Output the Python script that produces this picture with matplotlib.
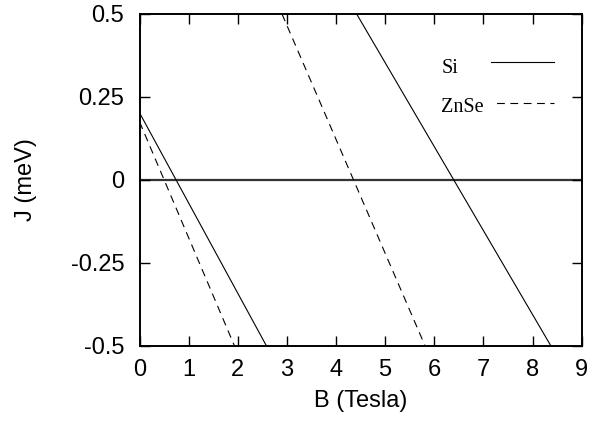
import numpy as np
import matplotlib
matplotlib.use('Agg')
import matplotlib.pyplot as plt

# branch end points: (B in Tesla, J in meV)
si_b = [[0.0, 2.58], [4.42, 8.37]]
si_j = [[0.202, -0.5], [0.5, -0.5]]
znse_b = [[0.0, 1.93], [2.90, 5.81]]
znse_j = [[0.175, -0.5], [0.5, -0.5]]

x_ticks = [0, 1, 2, 3, 4, 5, 6, 7, 8, 9]
y_ticks = [-0.5, -0.25, 0, 0.25, 0.5]
y_labels = ['-0.5', '-0.25', '0', '0.25', '0.5']

si_style = dict(color='black', lw=0.8, ls='-')
znse_style = dict(color='black', lw=0.8, ls=(0, (7, 5)))

plt.rcParams['font.family'] = ['Liberation Sans', 'DejaVu Sans']

fig = plt.figure(figsize=(6.04, 4.24), dpi=100)
ax = fig.add_axes([0.231, 0.185, 0.732, 0.782])

# zero line
ax.axhline(0, color='#333333', lw=1.6, zorder=1)

for k in range(len(si_b)):
    ax.plot(si_b[k], si_j[k], **si_style)
for k in range(len(znse_b)):
    ax.plot(znse_b[k], znse_j[k], **znse_style)

# gnuplot style key: text left, sample line right
key_font = dict(family='Liberation Serif', size=14.5)
ax.text(0.683, 0.823, 'Si', transform=ax.transAxes, va='baseline', **key_font)
ax.plot([0.795, 0.937], [0.854, 0.854], transform=ax.transAxes, **si_style)
ax.text(0.683, 0.7055, 'ZnSe', transform=ax.transAxes, va='baseline', **key_font)
key_dash = dict(znse_style, ls=(7, (7, 5)))
ax.plot([0.795, 0.937], [0.732, 0.732], transform=ax.transAxes, **key_dash)

ax.set_xlim(0, 9)
ax.set_ylim(-0.5, 0.5)
ax.set_xticks(x_ticks)
ax.set_yticks(y_ticks)
ax.set_yticklabels(y_labels)
ax.tick_params(direction='in', length=7, width=1, top=True, right=True,
               labelsize=17)
ax.tick_params(axis='x', pad=9.5)
ax.tick_params(axis='y', pad=11)
for s in ax.spines.values():
    s.set_linewidth(1.4)

ax.set_xlabel('B (Tesla)', fontsize=17, labelpad=6.5)
ax.set_ylabel('J (meV)', fontsize=17, labelpad=24)

fig.savefig('out.png', dpi=100)
